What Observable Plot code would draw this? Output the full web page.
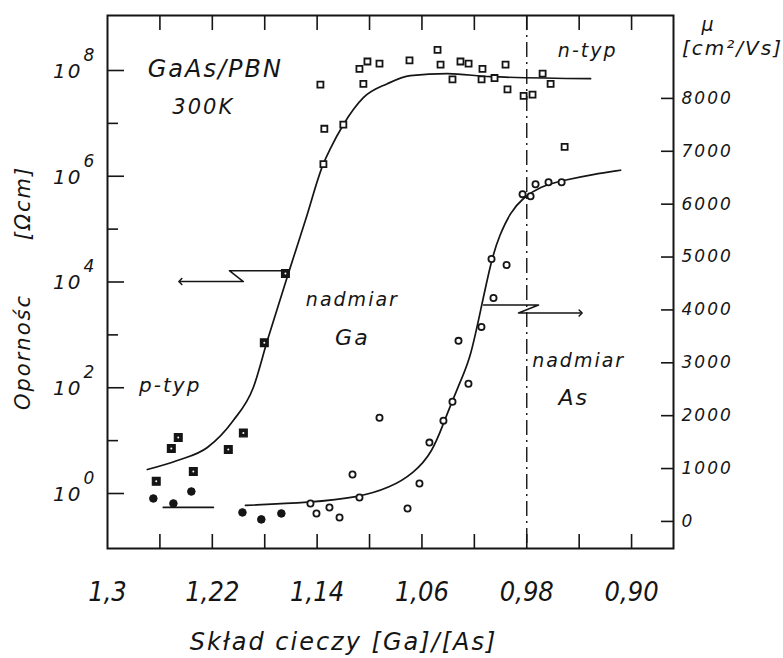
<!DOCTYPE html>
<html>
<head>
<meta charset="utf-8">
<script src="https://cdn.jsdelivr.net/npm/d3@7"></script>
<script src="https://cdn.jsdelivr.net/npm/@observablehq/plot@0.6"></script>
<style>
  html, body { margin: 0; padding: 0; background: #fff; }
  #chart svg { display: block; }
</style>
</head>
<body>
<div id="chart"></div>
<script>
// ---------- DATA ----------
// x axis: liquid composition [Ga]/[As] (reversed)
const xTicks = [1.26, 1.22, 1.18, 1.14, 1.10, 1.06, 1.02, 0.98, 0.94, 0.90];
const xLabelVals = [1.30, 1.22, 1.14, 1.06, 0.98, 0.90];
const xLabelText = ["1,3", "1,22", "1,14", "1,06", "0,98", "0,90"];
// left axis: resistivity (log), decades
const decadesMajor = [0, 2, 4, 6, 8];
const decadesMinor = [1, 3, 5, 7];
// right axis: mobility
const mobTicks = [0, 1000, 2000, 3000, 4000, 5000, 6000, 7000, 8000];

// resistivity, n-type (open squares)
const rhoNX = [1.1375, 1.1345, 1.120, 1.1352, 1.1077, 1.1047, 1.1016, 1.0924, 1.0695, 1.0481, 1.0458, 1.0367,
               1.0306, 1.0244, 1.0138, 1.0145, 1.0046, 0.9962, 0.9947, 0.9824, 0.9756, 0.9679, 0.9618, 0.9511];
const rhoNY = [5.4e7, 7.9e6, 9.5e6, 1.7e6, 1.07e8, 5.6e7, 1.48e8, 1.35e8, 1.55e8, 2.45e8, 1.29e8, 6.8e7,
               1.48e8, 1.35e8, 1.07e8, 6.8e7, 7.2e7, 1.29e8, 4.4e7, 3.3e7, 3.5e7, 8.7e7, 5.6e7, 3.6e6];
// resistivity, p-type (filled squares)
const rhoPX = [1.2628, 1.2513, 1.2460, 1.2345, 1.2078, 1.1963, 1.1803, 1.1642];
const rhoPY = [1.7, 7.1, 11.5, 2.6, 6.8, 14, 710, 1.45e4];
// mobility, n-type (open circles)
const muNX = [1.1451, 1.1405, 1.1306, 1.1229, 1.1130, 1.1077, 1.0924, 1.0710, 1.0619, 1.0543, 1.0436, 1.0367,
              1.0321, 1.0245, 1.0146, 1.0054, 1.0069, 0.9954, 0.9832, 0.9771, 0.9733, 0.9634, 0.9534];
const muNY = [340, 151, 264, 75, 887, 453, 1962, 245, 717, 1491, 1906, 2264,
              3415, 2604, 3679, 4226, 4962, 4849, 6189, 6151, 6377, 6415, 6415];
// mobility, p-type (filled circles)
const muPX = [1.265, 1.2497, 1.236, 1.197, 1.1826, 1.1673];
const muPY = [434, 340, 566, 170, 38, 151];

// fitted curve: resistivity
const rhoCurveX = [1.2696, 1.2467, 1.2238, 1.2040, 1.1887, 1.1780, 1.1620, 1.1490, 1.1352, 1.1299, 1.1200,
                   1.1047, 1.0864, 1.0688, 1.0406, 1.0077, 0.9313];
const rhoCurveY = [2.84, 4.21, 7.41, 24.0, 101, 780, 1.44e4, 1.45e5, 1.73e6, 3.33e6, 9.44e6,
                   3.06e7, 5.62e7, 7.98e7, 8.71e7, 7.64e7, 7.0e7];
// fitted curve: mobility, left flat piece and main piece
const muCurveAX = [1.2574, 1.2192];
const muCurveAY = [264, 264];
const muCurveX = [1.1947, 1.1451, 1.1085, 1.0840, 1.0665, 1.0520, 1.0428, 1.0367, 1.0298, 1.0230,
                  1.0153, 1.0069, 1.0008, 0.9924, 0.9832, 0.9695, 0.9519, 0.9290, 0.9084];
const muCurveY = [302, 358, 453, 642, 906, 1302, 1906, 2283, 2698, 3094,
                  3981, 4962, 5415, 5849, 6113, 6340, 6453, 6566, 6642];

// arrows pointing to the axis each curve belongs to
const arrowRhoX = [1.1642, 1.2070, 1.1963, 1.2444];
const arrowRhoY = [1.64e4, 1.64e4, 1.02e4, 1.02e4];
const arrowMuX = [1.0130, 0.9710, 0.9863, 0.9389];
const arrowMuY = [4094, 4094, 3943, 3943];

// boundary line
const stoichX = [0.98];

// annotation texts (x, resistivity-axis position)
const noteText = ["GaAs/PBN", "300K", "n-typ", "nadmiar", "Ga", "nadmiar", "As", "p-typ"];
const noteX    = [1.2177, 1.2269, 0.9335, 1.1131, 1.1131, 0.9404, 0.9442, 1.2521];
const noteY    = [1.07e8, 2.0e7, 2.3e8, 4.5e3, 890, 320, 63, 110];
const noteSize = [24, 21, 19, 19, 22, 19, 22, 20];

// ---------- SCALES ----------
const logLo = -1.04, logHi = 9.04;                 // resistivity domain (decades)
const MU_AT_UNITY = 528, MU_PER_DECADE = 1000;     // secondary (mobility) axis mapping
const mobY = m => Math.pow(10, (m - MU_AT_UNITY) / MU_PER_DECADE);

const W = 783, H = 658;
const mL = 107, mR = 110, mT = 15, mB = 110;
const innerW = W - mL - mR, innerH = H - mT - mB;

const pts = (xs, ys) => xs.map((x, i) => ({x, y: ys[i]}));
const ink = "#151515";
const fontItalic = "'DejaVu Sans', 'Liberation Sans', sans-serif";
const fontNarrow = "'Liberation Sans Narrow', 'DejaVu Sans Condensed', 'DejaVu Sans', sans-serif";

const chart = Plot.plot({
  width: W,
  height: H,
  marginLeft: mL, marginRight: mR, marginTop: mT, marginBottom: mB,
  style: {background: "#fff", color: ink, fontFamily: fontItalic, fontStyle: "italic"},
  x: {type: "linear", domain: [1.30, 0.868], axis: null},
  y: {type: "log", domain: [Math.pow(10, logLo), Math.pow(10, logHi)], axis: null},
  marks: [
    // boundary dash-dot line
    Plot.ruleX(stoichX, {stroke: ink, strokeWidth: 1.4, strokeDasharray: "15,5,2,5"}),
    // ticks (inward)
    Plot.ruleX(xTicks, {stroke: ink, strokeWidth: 1.6, insetTop: innerH - 14}),
    Plot.ruleX(xTicks, {stroke: ink, strokeWidth: 1.6, insetBottom: innerH - 15}),
    Plot.ruleY(decadesMajor, {y: d => Math.pow(10, d), stroke: ink, strokeWidth: 1.6, insetRight: innerW - 17}),
    Plot.ruleY(decadesMinor, {y: d => Math.pow(10, d), stroke: ink, strokeWidth: 1.6, insetRight: innerW - 11}),
    Plot.ruleY(mobTicks, {y: mobY, stroke: ink, strokeWidth: 1.6, insetLeft: innerW - 12}),
    // frame
    Plot.frame({stroke: ink, strokeWidth: 2}),
    // curves
    Plot.line(pts(rhoCurveX, rhoCurveY), {x: "x", y: "y", curve: "monotone-x", stroke: ink, strokeWidth: 1.7}),
    Plot.line(pts(muCurveAX, muCurveAY), {x: "x", y: d => mobY(d.y), stroke: ink, strokeWidth: 1.7}),
    Plot.line(pts(muCurveX, muCurveY), {x: "x", y: d => mobY(d.y), curve: "basis", stroke: ink, strokeWidth: 1.7}),
    // arrows
    Plot.line(pts(arrowRhoX, arrowRhoY), {x: "x", y: "y", stroke: ink, strokeWidth: 1.5, markerEnd: "arrow"}),
    Plot.line(pts(arrowMuX, arrowMuY), {x: "x", y: d => mobY(d.y), stroke: ink, strokeWidth: 1.5, markerEnd: "arrow"}),
    // points
    Plot.dot(pts(rhoNX, rhoNY), {x: "x", y: "y", symbol: "square", r: 3.4, stroke: ink, strokeWidth: 1.8, fill: "#fff"}),
    Plot.dot(pts(rhoPX, rhoPY), {x: "x", y: "y", symbol: "square", r: 4.4, stroke: ink, strokeWidth: 1.2, fill: ink}),
    Plot.dot(pts(rhoPX, rhoPY), {x: "x", y: "y", r: 1, fill: "#fff"}),
    Plot.dot(pts(muNX, muNY), {x: "x", y: d => mobY(d.y), r: 3.1, stroke: ink, strokeWidth: 1.8, fill: "#fff"}),
    Plot.dot(pts(muPX, muPY), {x: "x", y: d => mobY(d.y), r: 3.8, stroke: ink, strokeWidth: 1, fill: ink}),
    // left axis labels 10^n
    Plot.text(decadesMajor, {y: d => Math.pow(10, d), text: () => "10", frameAnchor: "left", textAnchor: "end", dx: -25, dy: 1, fontSize: 20, fill: ink}),
    Plot.text(decadesMajor, {y: d => Math.pow(10, d), text: d => String(d), frameAnchor: "left", textAnchor: "start", dx: -24, dy: -15, fontSize: 17, fill: ink}),
    // right axis labels
    Plot.text(mobTicks, {y: mobY, text: d => String(d), frameAnchor: "right", textAnchor: "start", dx: 8, fontSize: 17, fill: ink}),
    // x axis labels
    Plot.text(xLabelVals, {x: d => d, text: (d, i) => xLabelText[i], frameAnchor: "bottom", lineAnchor: "middle", dy: 44, fontSize: 27, fontFamily: fontNarrow, fill: ink}),
    // axis titles
    Plot.text(["Skład cieczy [Ga]/[As]"], {text: d => d, frameAnchor: "bottom-left", textAnchor: "middle", lineAnchor: "middle", dx: 236, dy: 94, fontSize: 24, fill: ink}),
    Plot.text(["Opornośc"], {text: d => d, frameAnchor: "left", textAnchor: "middle", dx: -84, dy: 70, rotate: -90, fontSize: 21, fill: ink}),
    Plot.text(["[Ωcm]"], {text: d => d, frameAnchor: "left", textAnchor: "middle", dx: -84, dy: -79, rotate: -90, fontSize: 21, fill: ink}),
    Plot.text(["μ"], {text: d => d, frameAnchor: "top-right", textAnchor: "middle", lineAnchor: "middle", dx: 35, dy: 9, fontSize: 19, fill: ink}),
    Plot.text(["[cm²/Vs]"], {text: d => d, frameAnchor: "top-right", textAnchor: "middle", lineAnchor: "middle", dx: 59, dy: 33, fontSize: 20, fill: ink}),
    // annotations
    Plot.text(noteText.map((t, i) => ({t, x: noteX[i], y: noteY[i], s: noteSize[i]})),
      {x: "x", y: "y", text: "t", fontSize: d => d.s, fill: ink})
  ]
});
chart.querySelectorAll("text").forEach(t => {
  t.style.letterSpacing = xLabelText.includes(t.textContent) ? "0px" : "2px";
});
document.getElementById("chart").appendChild(chart);
</script>
</body>
</html>
